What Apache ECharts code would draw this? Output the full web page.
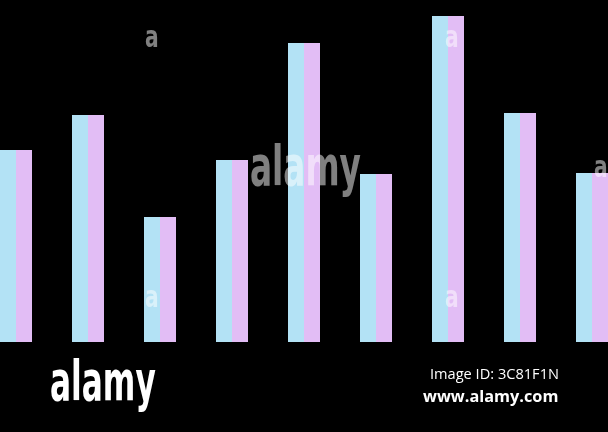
<!DOCTYPE html>
<html><head><meta charset="utf-8">
<script src="https://cdn.jsdelivr.net/npm/echarts@6/dist/echarts.min.js"></script>
<style>html,body{margin:0;padding:0;background:#000;}#c{width:608px;height:432px;}</style>
</head><body><div id="c"></div>
<script>
const categories = ['1','2','3','4','5','6','7','8','9'];
const blueValues = [192, 227, 125, 182, 299, 168, 326, 229, 169];
const pinkValues = [192, 227, 125, 182, 299, 168, 326, 229, 169];

const chart = echarts.init(document.getElementById('c'));
const wm = 'rgba(255,255,255,0.5)';
const logoFont = '"DejaVu Sans Condensed","Liberation Sans Narrow",sans-serif';
function smallA(x, y) {
  return {type:'text', x:x, y:y, scaleX:0.75, z:10, style:{text:'a', fill:wm, font:'bold 30px ' + logoFont}};
}
chart.setOption({
  backgroundColor:'#000',
  animation:false,
  grid:{left:-20, top:0, width:648, height:342, outerBoundsMode:'none', containLabel:false},
  xAxis:{type:'category', data:categories, show:false},
  yAxis:{type:'value', min:0, max:342, show:false},
  series:[
    {type:'bar', data:blueValues, barWidth:16, barGap:'0%', itemStyle:{color:'#b3e2f5'}},
    {type:'bar', data:pinkValues, barWidth:16, barGap:'0%', itemStyle:{color:'#e2bdf5'}}
  ],
  graphic:[
    {type:'text', x:250, y:142, scaleX:0.65, z:10, style:{text:'alamy', fill:wm, font:'bold 56px ' + logoFont}},
    smallA(145, 24), smallA(445, 24), smallA(145, 284), smallA(445, 284), smallA(594, 154),
    {type:'text', x:50, y:357, scaleX:0.62, z:10, style:{text:'alamy', fill:'#fff', font:'bold 56px ' + logoFont}},
    {type:'text', x:430, y:367, z:10, style:{text:'Image ID: 3C81F1N', fill:'#fff', font:'14.6px "Open Sans",sans-serif'}},
    {type:'text', x:423, y:389, z:10, style:{text:'www.alamy.com', fill:'#fff', font:'bold 16.3px "Open Sans",sans-serif'}}
  ]
});
</script></body></html>
